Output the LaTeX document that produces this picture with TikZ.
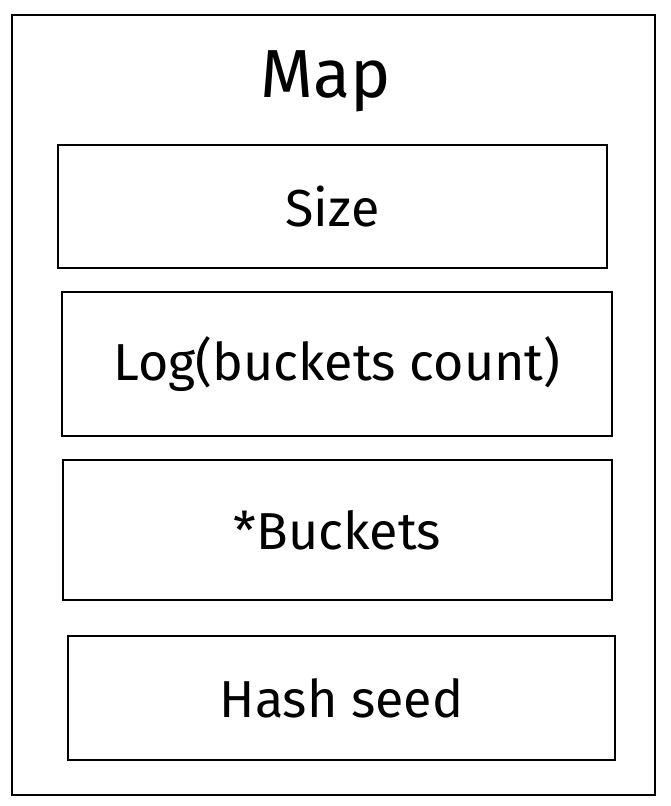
\documentclass[tikz,border=0pt]{standalone}
\usepackage{fontspec}
\setmainfont{Fira Sans}
\begin{document}
\begin{tikzpicture}[x=1pt,y=-1pt,
  field/.style={draw=black,line width=2pt,rectangle,inner sep=0pt,font=\fontsize{52}{56}\selectfont},
  frame/.style={draw=black,line width=2pt,rectangle,inner sep=0pt}]
\useasboundingbox (0,0) rectangle (670,806);
\node[frame,minimum width=643pt,minimum height=780pt] (map) at (333.5,405) {};
\node[font=\fontsize{68}{72}\selectfont,anchor=base] (title) at (326,97) {Map};
\node[field,minimum width=549pt,minimum height=123pt] (size) at (332.5,206.5) {Size};
\node[field,minimum width=550pt,minimum height=144pt] (log) at (337,364) {Log(buckets count)};
\node[field,minimum width=549pt,minimum height=140pt] (buckets) at (337.5,530) {*Buckets};
\node[field,minimum width=547pt,minimum height=124pt] (hash) at (341.5,698) {Hash seed};
\end{tikzpicture}
\end{document}
